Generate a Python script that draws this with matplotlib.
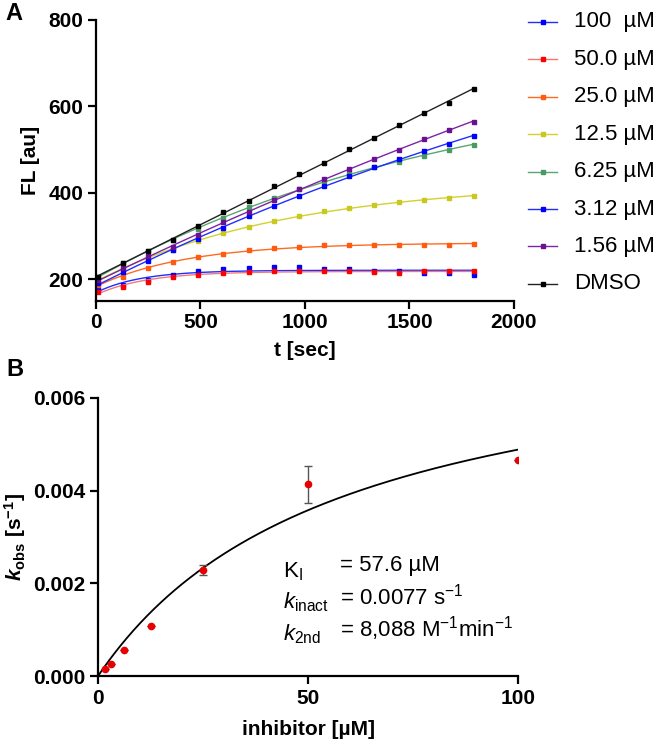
import numpy as np
import matplotlib
matplotlib.use("Agg")
import matplotlib.pyplot as plt
from matplotlib.lines import Line2D

plt.rcParams['font.family'] = ['Liberation Sans', 'DejaVu Sans']
plt.rcParams['mathtext.fontset'] = 'custom'
plt.rcParams['mathtext.rm'] = 'Liberation Sans'
plt.rcParams['mathtext.it'] = 'Liberation Sans:italic'
plt.rcParams['mathtext.bf'] = 'Liberation Sans:bold'
plt.rcParams['mathtext.bfit'] = 'Liberation Sans:bold:italic'

# ---------------- Panel A data ----------------
time_s = [10, 130, 250, 370, 490, 610, 730, 850, 970, 1090, 1210, 1330, 1450, 1570, 1690, 1810]
series_labels = ["100  µM", "50.0 µM", "25.0 µM", "12.5 µM", "6.25 µM", "3.12 µM", "1.56 µM", "DMSO"]
series_colors = ["#1f2dff", "#f07a7a", "#ff6a1f", "#d2d22c", "#5aa672", "#1f2dff", "#7d24a6", "#222222"]
marker_colors = ["#0000ff", "#ff0000", "#ff5a10", "#c8c820", "#4a9a62", "#0000ff", "#6a1090", "#000000"]
fl_100 = [177, 186, 198, 211, 219, 223, 226, 229, 229, 225, 223, 219, 219, 215, 214, 209]
fl_50 = [171, 183, 194, 206, 209, 215, 217, 219, 219, 219, 220, 218, 215, 219, 219, 219]
fl_25 = [188, 206, 227, 240, 252, 258, 269, 273, 275, 279, 279, 279, 280, 280, 279, 282]
fl_12 = [201, 226, 248, 268, 288, 308, 322, 335, 346, 358, 365, 371, 379, 384, 388, 393]
fl_6 = [206, 237, 265, 292, 317, 342, 367, 388, 409, 427, 445, 459, 472, 486, 500, 511]
fl_3 = [192, 217, 242, 268, 294, 319, 346, 369, 392, 415, 438, 459, 479, 498, 514, 531]
fl_1 = [198, 226, 253, 275, 302, 332, 356, 383, 408, 433, 456, 478, 500, 525, 545, 564]
fl_dmso = [206, 238, 265, 292, 323, 355, 381, 415, 444, 469, 502, 528, 556, 585, 607, 640]
series_values = [fl_100, fl_50, fl_25, fl_12, fl_6, fl_3, fl_1, fl_dmso]

# ---------------- Panel B data ----------------
inhibitor_uM = [1.5625, 3.125, 6.25, 12.5, 25, 50, 100]
kobs = [0.00015, 0.000265, 0.00056, 0.00108, 0.00229, 0.00414, 0.00466]
kobs_err = [0, 0, 0, 0, 0.000115, 0.0004, 0]
KI_uM = 57.6
kinact = 0.0077
series_kobs = [kobs[6], kobs[5], kobs[4], kobs[3], kobs[2], kobs[1], kobs[0], 0.0]

W, H = 657, 745
fig = plt.figure(figsize=(W / 100, H / 100), dpi=100)

TICKFS = 15
LABFS = 15

# ---------------- Panel A ----------------
axA = fig.add_axes([0.1461, 0.5960, 0.6362, 0.3772])
t = np.array(time_s, dtype=float)
tt = np.linspace(t[0], t[-1], 300)
for vals, col, mcol, k in zip(series_values, series_colors, marker_colors, series_kobs):
    y = np.array(vals, dtype=float)
    if k > 0:
        basis = (1 - np.exp(-k * t)) / k
        basis_f = (1 - np.exp(-k * tt)) / k
    else:
        basis = t
        basis_f = tt
    A = np.vstack([np.ones_like(t), basis]).T
    coef, *_ = np.linalg.lstsq(A, y, rcond=None)
    yfit = coef[0] + coef[1] * basis_f
    axA.plot(tt, yfit, color=col, lw=1.0)
    axA.plot(t, y, ls='none', marker='s', ms=2.2, color=mcol, mec=mcol)

axA.set_xlim(0, 2000)
axA.set_ylim(150, 800)
axA.set_xticks([0, 500, 1000, 1500, 2000])
axA.set_yticks([200, 400, 600, 800])
axA.set_xlabel("t [sec]", fontsize=LABFS, fontweight='bold', labelpad=6)
axA.set_ylabel("FL [au]", fontsize=LABFS, fontweight='bold', labelpad=6)

# legend drawn in figure pixel coordinates
for i, (lab, col, mcol) in enumerate(zip(series_labels, series_colors, marker_colors)):
    yp = 1 - (22 + 37.4 * i) / H
    fig.add_artist(Line2D([528 / W, 557 / W], [yp, yp], color=col, lw=1.0))
    fig.add_artist(Line2D([542.5 / W], [yp], ls='none', marker='s', ms=2.4, color=mcol, mec=mcol))
    fig.text(574 / W, yp, lab, fontsize=16, va='center', ha='left')

# ---------------- Panel B ----------------
axB = fig.add_axes([0.1492, 0.0926, 0.6392, 0.3732])
xx = np.linspace(0, 100, 300)
axB.plot(xx, kinact * xx / (KI_uM + xx), color='black', lw=1.3)
axB.errorbar(inhibitor_uM, kobs, yerr=kobs_err, fmt='o', ms=4.5, color='#e80000',
             ecolor='#555555', elinewidth=1.0, capsize=3, capthick=1.0, zorder=3)
axB.set_xlim(0, 100)
axB.set_ylim(0, 0.006)
axB.set_xticks([0, 50, 100])
axB.set_yticks([0.0, 0.002, 0.004, 0.006])
axB.set_yticklabels(["0.000", "0.002", "0.004", "0.006"])
axB.set_xlabel("inhibitor [µM]", fontsize=LABFS, fontweight='bold', labelpad=9)
axB.set_ylabel(r"$\mathbfit{k}_{\mathbf{obs}}$ [s$^{\mathbf{-1}}$]", fontsize=LABFS, fontweight='bold', labelpad=4)

for ax in (axA, axB):
    for s in ('top', 'right'):
        ax.spines[s].set_visible(False)
    for s in ('left', 'bottom'):
        ax.spines[s].set_linewidth(1.6)
    ax.tick_params(width=1.6, length=6, labelsize=TICKFS, pad=3)
    for lbl in ax.get_xticklabels() + ax.get_yticklabels():
        lbl.set_fontweight('bold')

# annotation text panel B
fs = 16
fig.text(283 / W, 1 - 572 / H, r"K$_\mathrm{I}$", fontsize=fs, va='center', ha='left')
fig.text(283 / W, 1 - 602 / H, r"$k_\mathrm{inact}$", fontsize=fs, va='center', ha='left')
fig.text(283 / W, 1 - 634 / H, r"$k_\mathrm{2nd}$", fontsize=fs, va='center', ha='left')
fig.text(340 / W, 1 - 566 / H, "= 57.6 µM", fontsize=fs, va='center', ha='left')
fig.text(340 / W, 1 - 597 / H, r"= 0.0077 s$^{-1}$", fontsize=fs, va='center', ha='left')
fig.text(340 / W, 1 - 629 / H, r"= 8,088 M$^{-1}$min$^{-1}$", fontsize=fs, va='center', ha='left')

fig.text(5 / W, 1 - 13 / H, "A", fontsize=17, fontweight='bold', va='center', ha='left')
fig.text(6 / W, 1 - 370 / H, "B", fontsize=17, fontweight='bold', va='center', ha='left')

fig.savefig("out.png", dpi=100)
